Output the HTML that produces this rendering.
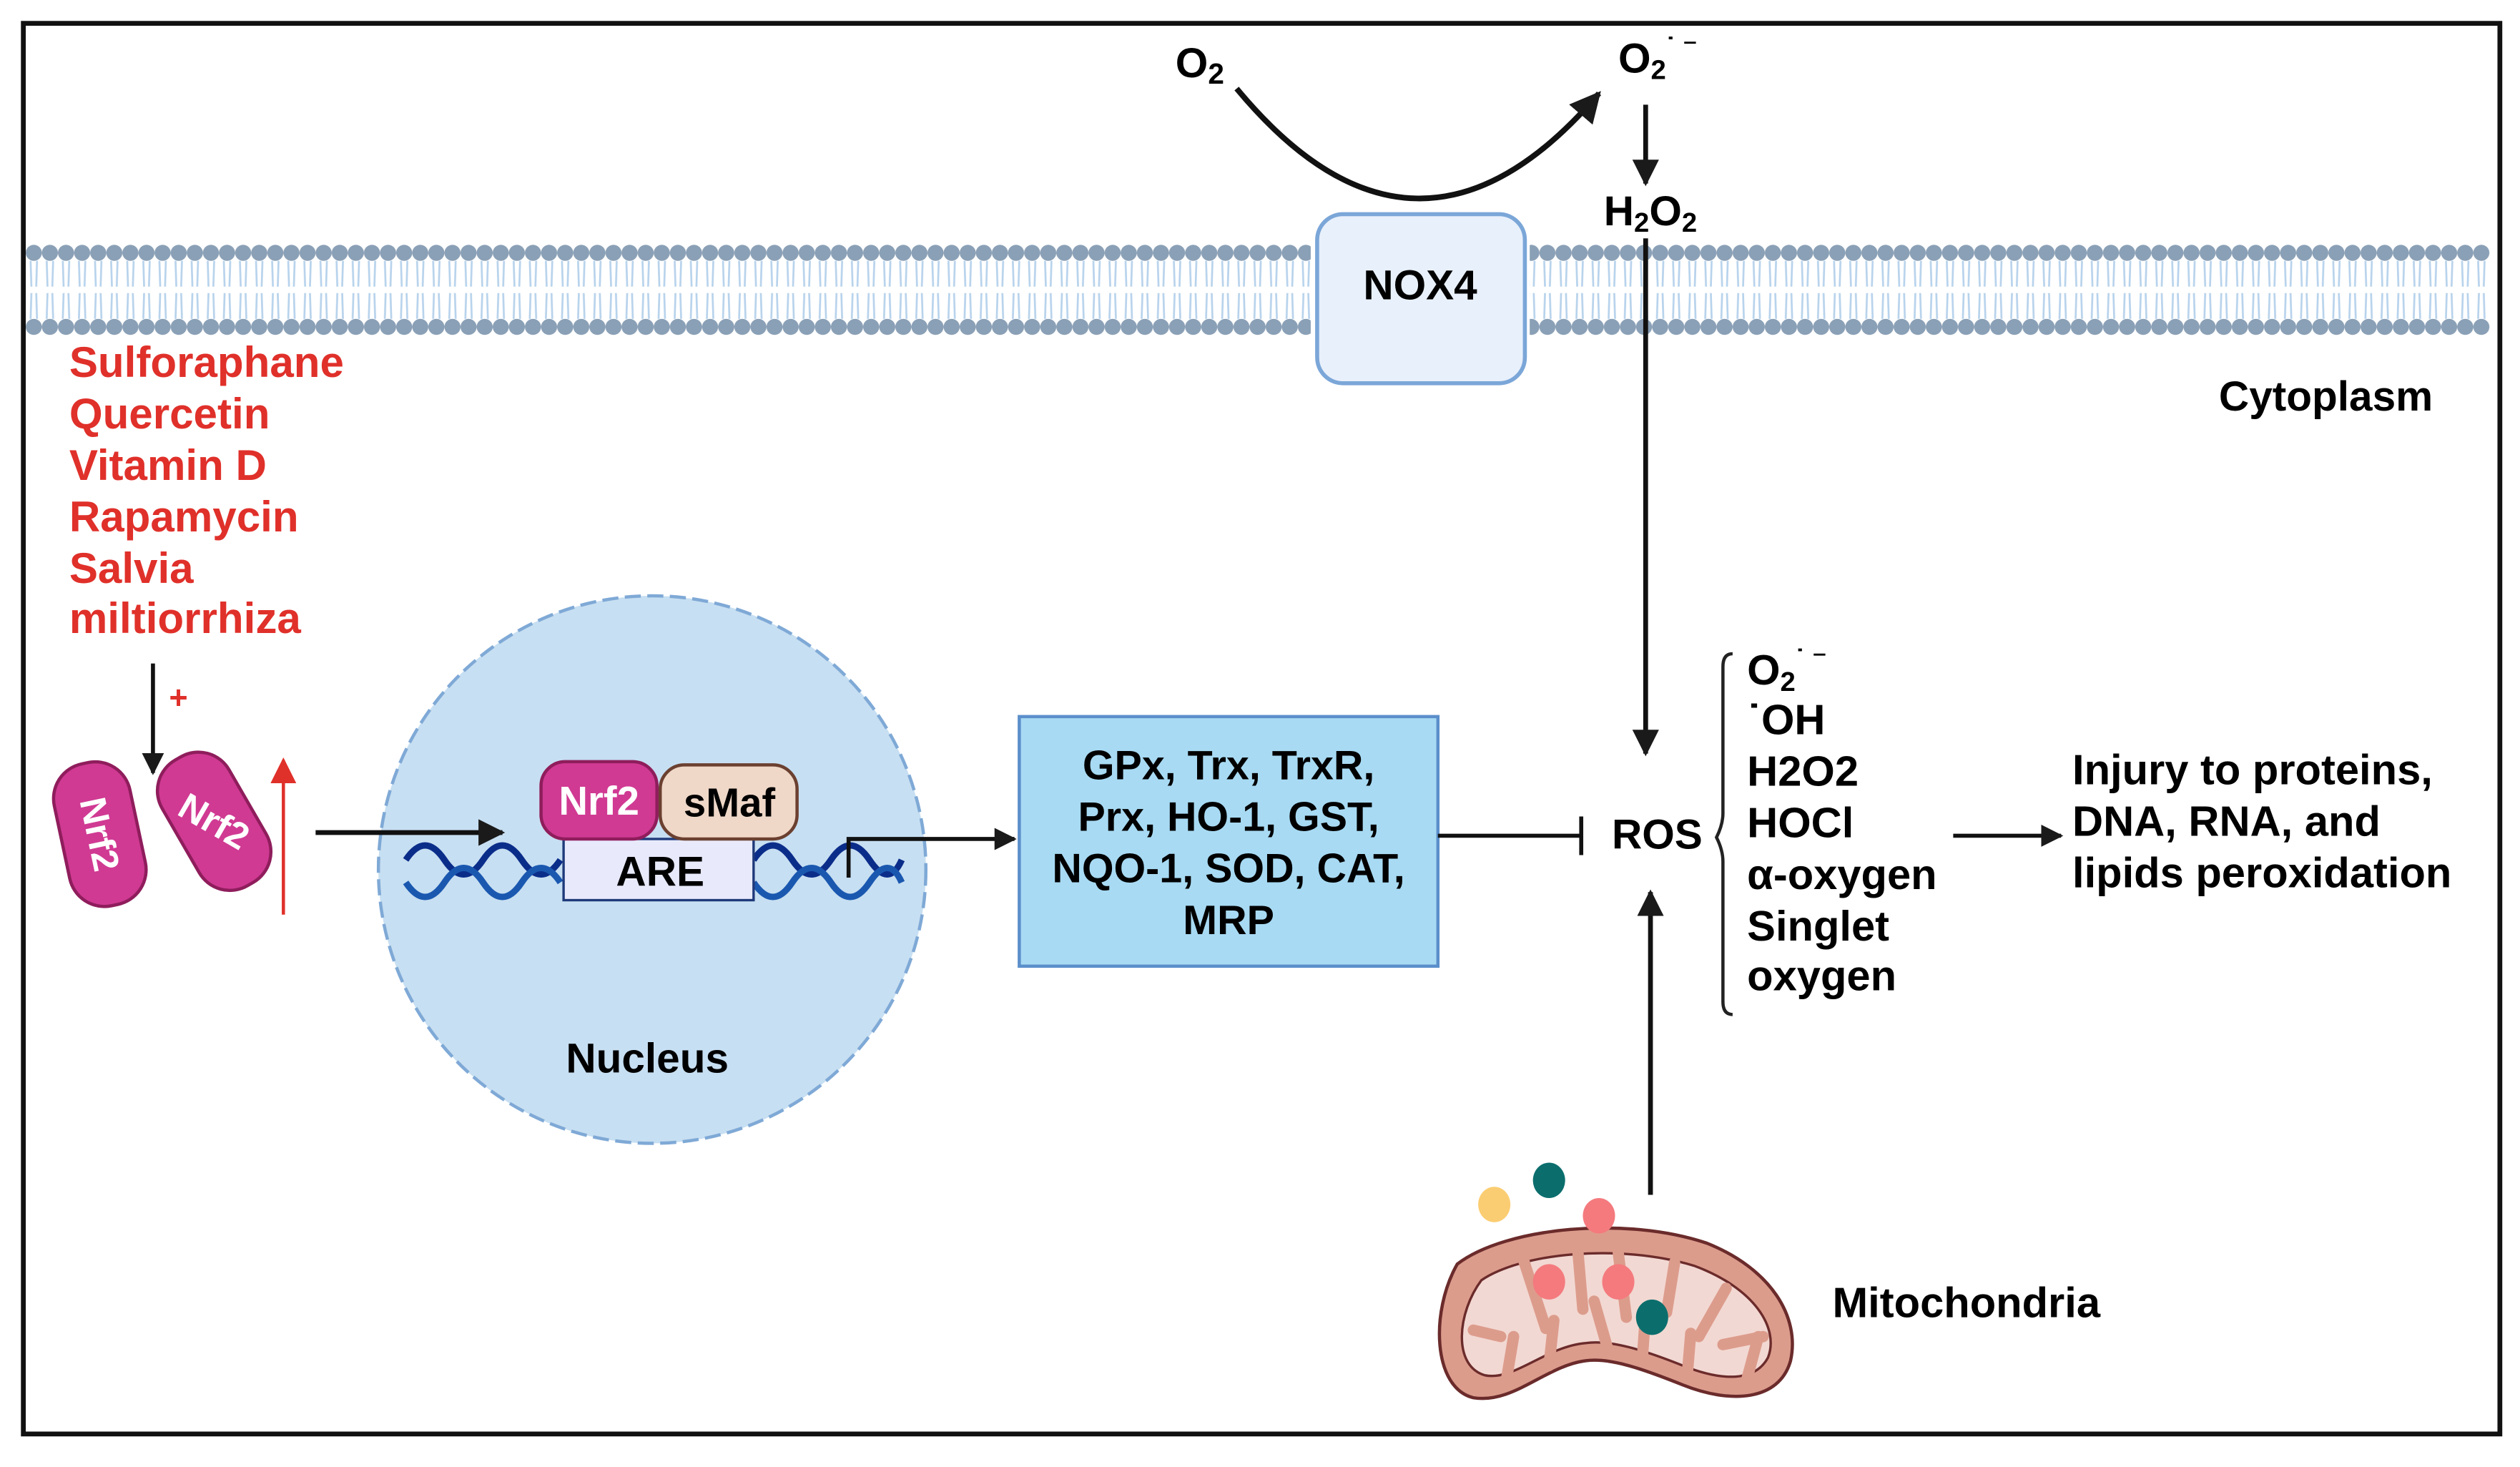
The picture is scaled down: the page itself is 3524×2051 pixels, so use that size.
<!DOCTYPE html>
<html><head><meta charset="utf-8"><style>
html,body{margin:0;padding:0;background:#fff;}
svg{display:block;}
text{font-family:"Liberation Sans",sans-serif;font-weight:bold;}
</style></head><body>
<svg width="3524" height="2051" viewBox="0 0 1565 911" preserveAspectRatio="none" xmlns="http://www.w3.org/2000/svg">
<defs>
<pattern id="lip" x="16" y="0" width="10" height="911" patternUnits="userSpaceOnUse">
<path d="M3,162 L3.5,178 M7,162 L6.5,178 M3,198 L3.5,182 M7,198 L6.5,182" stroke="#b8d3ec" stroke-width="1.2" fill="none"/>
<circle cx="5" cy="157" r="5" fill="#8aa0b6"/>
<circle cx="5" cy="203" r="5" fill="#8aa0b6"/>
</pattern>
<marker id="ah" viewBox="0 0 10 10" refX="9" refY="5" markerWidth="5.5" markerHeight="5.5" orient="auto"><path d="M0,0 L10,5 L0,10 z" fill="#1a1a1a"/></marker>
<marker id="ahr" viewBox="0 0 10 10" refX="9" refY="5" markerWidth="8" markerHeight="8" orient="auto"><path d="M0,0 L10,5 L0,10 z" fill="#e0302a"/></marker>
</defs>
<rect x="0" y="0" width="1565" height="911" fill="#fff"/>
<rect x="14.5" y="14.5" width="1538" height="876" fill="none" stroke="#111" stroke-width="3"/>
<rect x="16" y="150" width="798" height="60" fill="url(#lip)"/>
<rect x="950" y="150" width="596" height="60" fill="url(#lip)"/>
<rect x="818" y="133" width="129" height="105" rx="16" fill="#e8f0fb" stroke="#7ba6d8" stroke-width="2.5"/>
<text x="882" y="186" font-size="26" text-anchor="middle">NOX4</text>
<text x="730" y="48" font-size="26">O<tspan font-size="18" dy="4">2</tspan></text>
<path d="M768,55 Q880,190 993,58" fill="none" stroke="#111" stroke-width="3.5" marker-end="url(#ah)"/>
<text x="1005" y="45" font-size="26">O<tspan font-size="17" dy="4">2</tspan><tspan font-size="17" dy="-14">˙ ⁻</tspan></text>
<line x1="1022" y1="65" x2="1022" y2="114" stroke="#111" stroke-width="3" marker-end="url(#ah)"/>
<text x="996" y="140" font-size="26">H<tspan font-size="17" dy="4">2</tspan><tspan dy="-4">O</tspan><tspan font-size="17" dy="4">2</tspan></text>
<line x1="1022" y1="148" x2="1022" y2="468" stroke="#111" stroke-width="3" marker-end="url(#ah)"/>
<text x="1378" y="255" font-size="26">Cytoplasm</text>
<g fill="#e0302a" font-size="26.7">
<text x="43" y="234">Sulforaphane</text>
<text x="43" y="266">Quercetin</text>
<text x="43" y="298">Vitamin D</text>
<text x="43" y="330">Rapamycin</text>
<text x="43" y="362">Salvia</text>
<text x="43" y="393">miltiorrhiza</text>
<text x="105" y="440" font-size="20" font-weight="normal">+</text>
</g>
<line x1="95" y1="412" x2="95" y2="480" stroke="#111" stroke-width="2.5" marker-end="url(#ah)"/>
<line x1="176" y1="568" x2="176" y2="472" stroke="#e0302a" stroke-width="2" marker-end="url(#ahr)"/>
<g transform="translate(62,518) rotate(-12)">
<rect x="-24" y="-45" width="48" height="90" rx="22" fill="#d03a93" stroke="#8f1d5c" stroke-width="2"/>
<text transform="rotate(90)" x="0" y="8" font-size="23" fill="#fff" text-anchor="middle">Nrf2</text>
</g>
<g transform="translate(133,510) rotate(-30)">
<rect x="-24" y="-45" width="48" height="90" rx="22" fill="#d03a93" stroke="#8f1d5c" stroke-width="2"/>
<text transform="rotate(60)" x="0" y="8" font-size="23" fill="#fff" text-anchor="middle">Nrf2</text>
</g>
<circle cx="405" cy="540" r="170" fill="#c7dff2" stroke="#7fa9d6" stroke-width="2" stroke-dasharray="10,4"/>
<line x1="196" y1="517" x2="312" y2="517" stroke="#111" stroke-width="3" marker-end="url(#ah)"/>
<text x="402" y="666" font-size="26" text-anchor="middle">Nucleus</text>
<g fill="none" stroke-width="4">
<path d="M252,534 q12,-18 24,0 t24,0 t24,0 t24,0" stroke="#0b2d8a"/>
<path d="M252,548 q12,18 24,0 t24,0 t24,0 t24,0" stroke="#1a58b0"/>
<path d="M468,534 q12,-18 24,0 t24,0 t24,0 t20,0" stroke="#0b2d8a"/>
<path d="M468,548 q12,18 24,0 t24,0 t24,0 t20,0" stroke="#1a58b0"/>
</g>
<rect x="350" y="521" width="118" height="38" fill="#e8eafc" stroke="#1f3a7a" stroke-width="1.5"/>
<text x="410" y="550" font-size="26" text-anchor="middle">ARE</text>
<rect x="336" y="473" width="72" height="48" rx="15" fill="#d03a93" stroke="#8f1d5c" stroke-width="2"/>
<text x="372" y="506" font-size="25" fill="#fff" text-anchor="middle">Nrf2</text>
<rect x="410" y="475" width="85" height="46" rx="15" fill="#efd8c8" stroke="#6b4030" stroke-width="2"/>
<text x="453" y="507" font-size="25" text-anchor="middle">sMaf</text>
<path d="M527,545 L527,521 L630,521" fill="none" stroke="#111" stroke-width="2.5" marker-end="url(#ah)"/>
<rect x="633" y="445" width="260" height="155" fill="#a8daf3" stroke="#5b8fcb" stroke-width="2"/>
<g font-size="25.5" text-anchor="middle">
<text x="763" y="484">GPx, Trx, TrxR,</text>
<text x="763" y="516">Prx, HO-1, GST,</text>
<text x="763" y="548">NQO-1, SOD, CAT,</text>
<text x="763" y="580">MRP</text>
</g>
<line x1="893" y1="519" x2="982" y2="519" stroke="#111" stroke-width="2.5"/>
<line x1="982" y1="507" x2="982" y2="531" stroke="#111" stroke-width="2.5"/>
<text x="1001" y="527" font-size="26">ROS</text>
<line x1="1025" y1="742" x2="1025" y2="554" stroke="#111" stroke-width="3" marker-end="url(#ah)"/>
<path d="M1076,406 Q1070,406 1070,414 L1070,505 Q1070,512 1066,520 Q1070,528 1070,535 L1070,622 Q1070,630 1076,630" fill="none" stroke="#222" stroke-width="2"/>
<g font-size="26.5">
<text x="1085" y="425">O<tspan font-size="17" dy="4">2</tspan><tspan font-size="17" dy="-14">˙ ⁻</tspan></text>
<text x="1085" y="456">˙OH</text>
<text x="1085" y="488">H2O2</text>
<text x="1085" y="520">HOCl</text>
<text x="1085" y="552">α-oxygen</text>
<text x="1085" y="584">Singlet</text>
<text x="1085" y="615">oxygen</text>
</g>
<line x1="1213" y1="519" x2="1280" y2="519" stroke="#111" stroke-width="2.5" marker-end="url(#ah)"/>
<g font-size="26.5">
<text x="1287" y="487">Injury to proteins,</text>
<text x="1287" y="519">DNA, RNA, and</text>
<text x="1287" y="551">lipids peroxidation</text>
</g>
<path d="M905,785 C935,762 1010,755 1060,772 C1100,788 1118,818 1112,845 C1105,870 1075,872 1045,860 C1020,850 1000,843 985,845 C960,848 940,872 915,868 C890,862 888,815 905,785 Z" fill="#dc9c8c" stroke="#6b2b2b" stroke-width="2"/>
<path d="M920,795 C945,778 1005,772 1052,786 C1090,800 1105,825 1098,843 C1090,858 1070,858 1045,848 C1020,838 1000,832 985,834 C960,836 940,858 922,854 C902,848 905,815 920,795 Z" fill="#f2d8d2" stroke="#6b2b2b" stroke-width="1.5"/>
<g stroke="#dc9c8c" stroke-width="7" stroke-linecap="round">
<line x1="946" y1="782" x2="960" y2="825"/><line x1="980" y1="778" x2="983" y2="813"/><line x1="1005" y1="778" x2="1010" y2="818"/><line x1="1040" y1="784" x2="1035" y2="815"/><line x1="1072" y1="800" x2="1055" y2="830"/><line x1="1095" y1="830" x2="1070" y2="835"/>
<line x1="915" y1="826" x2="932" y2="830"/><line x1="935" y1="860" x2="940" y2="830"/><line x1="962" y1="848" x2="965" y2="820"/><line x1="998" y1="836" x2="990" y2="808"/><line x1="1020" y1="843" x2="1022" y2="815"/><line x1="1048" y1="852" x2="1050" y2="828"/><line x1="1085" y1="856" x2="1092" y2="830"/>
</g>
<ellipse cx="928" cy="748" rx="10" ry="11" fill="#fbcd72"/>
<ellipse cx="962" cy="733" rx="10" ry="11" fill="#0b6e6d"/>
<ellipse cx="993" cy="755" rx="10" ry="11" fill="#f47a7e"/>
<ellipse cx="962" cy="796" rx="10" ry="11" fill="#f47a7e"/>
<ellipse cx="1005" cy="796" rx="10" ry="11" fill="#f47a7e"/>
<ellipse cx="1026" cy="818" rx="10" ry="11" fill="#0b6e6d"/>
<text x="1138" y="818" font-size="26.5">Mitochondria</text>
</svg>
</body></html>
